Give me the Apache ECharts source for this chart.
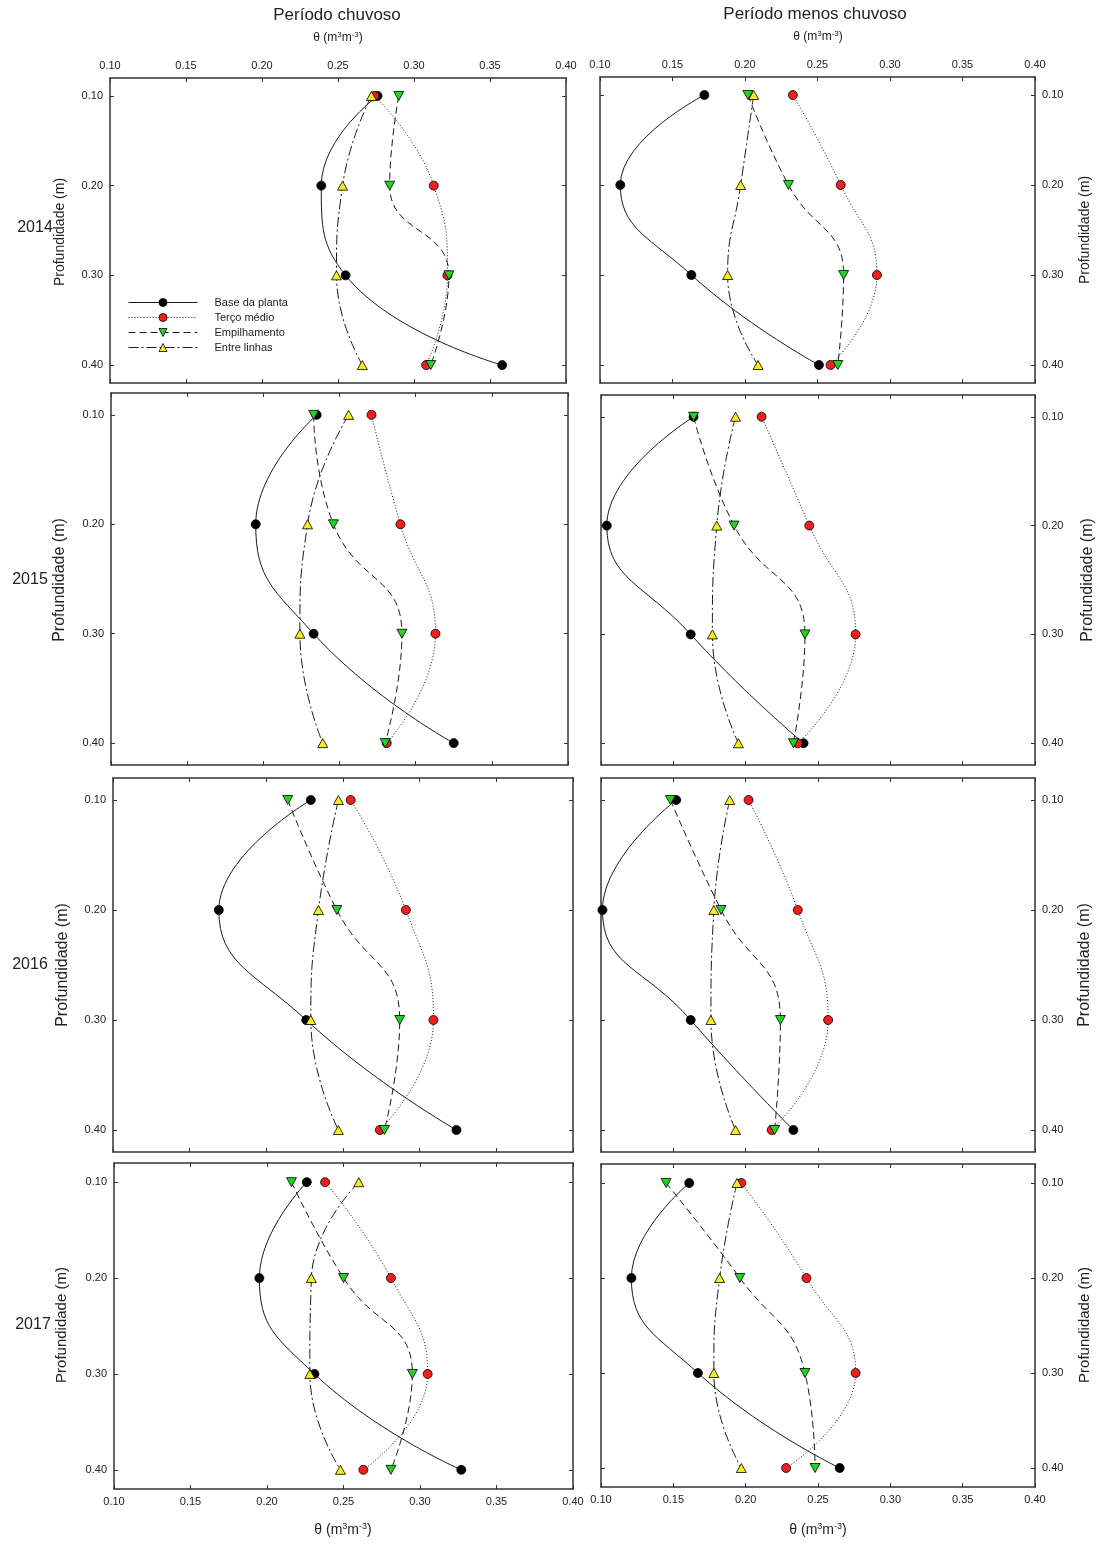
<!DOCTYPE html>
<html>
<head>
<meta charset="utf-8">
<title>Umidade do solo por profundidade</title>
<script src="https://cdn.jsdelivr.net/npm/echarts@6/dist/echarts.min.js"></script>
<style>
  html, body { margin: 0; padding: 0; background: #fff; }
  #chart { width: 1099px; height: 1545px; }
</style>
</head>
<body>
<div id="chart"></div>
<script>
// ---- data -------------------------------------------------------------
const depths = [0.10, 0.20, 0.30, 0.40];            // Profundidade (m)
const depthTicks = [0.10, 0.20, 0.30, 0.40];
const seriesNames = ['Base da planta', 'Terço médio', 'Empilhamento', 'Entre linhas'];
const years = ['2014', '2015', '2016', '2017'];
const periodTitles = ['Período chuvoso', 'Período menos chuvoso'];

// θ (m3 m-3) at each depth — Período chuvoso
const chuvoso2014Base = [0.276, 0.239, 0.255, 0.358];
const chuvoso2014Terco = [0.274, 0.313, 0.322, 0.308];
const chuvoso2014Empilhamento = [0.290, 0.284, 0.323, 0.311];
const chuvoso2014Entre = [0.272, 0.253, 0.249, 0.266];

const chuvoso2015Base = [0.235, 0.195, 0.233, 0.325];
const chuvoso2015Terco = [0.271, 0.290, 0.313, 0.281];
const chuvoso2015Empilhamento = [0.233, 0.246, 0.291, 0.280];
const chuvoso2015Entre = [0.256, 0.229, 0.224, 0.239];

const chuvoso2016Base = [0.229, 0.169, 0.226, 0.324];
const chuvoso2016Terco = [0.255, 0.291, 0.309, 0.274];
const chuvoso2016Empilhamento = [0.214, 0.246, 0.287, 0.277];
const chuvoso2016Entre = [0.247, 0.234, 0.229, 0.247];

const chuvoso2017Base = [0.226, 0.195, 0.231, 0.327];
const chuvoso2017Terco = [0.238, 0.281, 0.305, 0.263];
const chuvoso2017Empilhamento = [0.216, 0.250, 0.295, 0.281];
const chuvoso2017Entre = [0.260, 0.229, 0.228, 0.248];

// θ (m3 m-3) at each depth — Período menos chuvoso
const menos2014Base = [0.172, 0.114, 0.163, 0.251];
const menos2014Terco = [0.233, 0.266, 0.291, 0.259];
const menos2014Empilhamento = [0.202, 0.230, 0.268, 0.264];
const menos2014Entre = [0.206, 0.197, 0.188, 0.209];

const menos2015Base = [0.164, 0.104, 0.162, 0.240];
const menos2015Terco = [0.211, 0.244, 0.276, 0.236];
const menos2015Empilhamento = [0.164, 0.192, 0.241, 0.233];
const menos2015Entre = [0.193, 0.180, 0.177, 0.195];

const menos2016Base = [0.152, 0.101, 0.162, 0.233];
const menos2016Terco = [0.202, 0.236, 0.257, 0.218];
const menos2016Empilhamento = [0.148, 0.183, 0.224, 0.220];
const menos2016Entre = [0.189, 0.178, 0.176, 0.193];

const menos2017Base = [0.161, 0.121, 0.167, 0.265];
const menos2017Terco = [0.197, 0.242, 0.276, 0.228];
const menos2017Empilhamento = [0.145, 0.196, 0.241, 0.248];
const menos2017Entre = [0.194, 0.182, 0.178, 0.197];

// panels in reading order: [row][column]
const panelData = [
  [[chuvoso2014Base, chuvoso2014Terco, chuvoso2014Empilhamento, chuvoso2014Entre],
   [menos2014Base, menos2014Terco, menos2014Empilhamento, menos2014Entre]],
  [[chuvoso2015Base, chuvoso2015Terco, chuvoso2015Empilhamento, chuvoso2015Entre],
   [menos2015Base, menos2015Terco, menos2015Empilhamento, menos2015Entre]],
  [[chuvoso2016Base, chuvoso2016Terco, chuvoso2016Empilhamento, chuvoso2016Entre],
   [menos2016Base, menos2016Terco, menos2016Empilhamento, menos2016Entre]],
  [[chuvoso2017Base, chuvoso2017Terco, chuvoso2017Empilhamento, chuvoso2017Entre],
   [menos2017Base, menos2017Terco, menos2017Empilhamento, menos2017Entre]]
];

// ---- layout & style ---------------------------------------------------
const FONT = '"Liberation Sans", Arial, sans-serif';
const INK = '#222';
const FRAME = '#333';

const panelRects = [
  [{ left: 110, top: 78, width: 456, height: 305 }, { left: 600, top: 77, width: 435, height: 306 }],
  [{ left: 111, top: 393, width: 457, height: 372 }, { left: 601, top: 395, width: 434, height: 370 }],
  [{ left: 113, top: 778, width: 460, height: 374 }, { left: 601, top: 778, width: 434, height: 374 }],
  [{ left: 114, top: 1163, width: 459, height: 326 }, { left: 601, top: 1164, width: 434, height: 323 }]
];

const seriesStyles = [
  { fill: '#000000', dash: 'solid', symbol: 'circle', size: 9 },
  { fill: '#ee1f1f', dash: [1, 2], symbol: 'circle', size: 9 },
  { fill: '#22d422', dash: [7, 4], symbol: 'path://M0,0L10,0L5,9Z', size: [10, 9] },
  { fill: '#f6ee1c', dash: [10, 3, 2, 3], symbol: 'triangle', size: [10, 9] }
];

const twoDecimals = v => Number(v).toFixed(2);

const grids = [], xAxes = [], yAxes = [], series = [];

panelRects.forEach((rowRects, row) => {
  rowRects.forEach((rect, col) => {
    const g = grids.length;
    grids.push(Object.assign({ containLabel: false, outerBoundsMode: 'none', show: false }, rect));

    const frameLine = { show: true, onZero: false, lineStyle: { color: FRAME, width: 1.5 } };
    const tick = { show: true, inside: true, length: 4, lineStyle: { color: FRAME, width: 1 } };
    const label = (show) => ({
      show, margin: 7, color: INK, fontFamily: FONT, fontSize: 11, formatter: twoDecimals
    });

    const xBase = {
      type: 'value', gridIndex: g, min: 0.10, max: 0.40, interval: 0.05,
      axisLine: frameLine, axisTick: tick, splitLine: { show: false }
    };
    const xBottom = xAxes.length;
    xAxes.push(Object.assign({}, xBase, { position: 'bottom', axisLabel: label(row === 3) }));
    xAxes.push(Object.assign({}, xBase, { position: 'top', axisLabel: label(row === 0) }));

    const yBase = {
      type: 'value', gridIndex: g, min: 0.08, max: 0.42, inverse: true,
      axisLine: frameLine,
      axisTick: Object.assign({ customValues: depthTicks }, tick),
      splitLine: { show: false }
    };
    const yLeft = yAxes.length;
    yAxes.push(Object.assign({}, yBase, {
      position: 'left',
      axisLabel: Object.assign({ customValues: depthTicks }, label(col === 0))
    }));
    yAxes.push(Object.assign({}, yBase, {
      position: 'right',
      axisLabel: Object.assign({ customValues: depthTicks }, label(col === 1))
    }));

    panelData[row][col].forEach((values, s) => {
      const st = seriesStyles[s];
      series.push({
        name: seriesNames[s],
        type: 'line',
        xAxisIndex: xBottom,
        yAxisIndex: yLeft,
        smooth: 0.5,
        data: depths.map((d, i) => [values[i], d]),
        symbol: st.symbol,
        symbolSize: st.size,
        lineStyle: { color: '#1a1a1a', width: 1, type: st.dash },
        itemStyle: { color: st.fill, borderColor: '#000', borderWidth: 0.8 },
        emphasis: { disabled: true },
        silent: true
      });
    });
  });
});

// ---- free text --------------------------------------------------------
function thetaLabel(x, y, size) {
  return {
    type: 'text', x, y,
    style: {
      text: '{a|θ (m}{s|3}{a|m}{s|-3}{a|)}',
      align: 'center', verticalAlign: 'middle',
      rich: {
        a: { fontFamily: FONT, fontSize: size, fill: INK, lineHeight: size + 2 },
        s: { fontFamily: FONT, fontSize: Math.round(size * 0.65), fill: INK, verticalAlign: 'top', lineHeight: size + 2 }
      }
    }
  };
}
function plainText(text, x, y, size, rotation) {
  return {
    type: 'text', x, y, rotation: rotation || 0,
    style: { text, fontFamily: FONT, fontSize: size, fill: INK, align: 'center', verticalAlign: 'middle' }
  };
}

const yearPos = [[35, 228], [30, 580], [30, 965], [33, 1325]];
const depthTitleLeft = [[60, 232, 14], [60, 580, 16], [63, 965, 16], [62, 1325, 15]];
const depthTitleRight = [[1085, 230, 14], [1088, 580, 16], [1085, 965, 16], [1085, 1325, 15]];

const graphics = [
  plainText(periodTitles[0], 337, 15, 17),
  thetaLabel(338, 38, 12),
  plainText(periodTitles[1], 815, 14, 17),
  thetaLabel(818, 37, 12),
  thetaLabel(343, 1530, 14),
  thetaLabel(818, 1530, 14)
];
years.forEach((y, i) => graphics.push(plainText(y, yearPos[i][0], yearPos[i][1], 16)));
depthTitleLeft.forEach(p => graphics.push(plainText('Profundidade (m)', p[0], p[1], p[2], Math.PI / 2)));
depthTitleRight.forEach(p => graphics.push(plainText('Profundidade (m)', p[0], p[1], p[2], Math.PI / 2)));

// ---- chart ------------------------------------------------------------
const chart = echarts.init(document.getElementById('chart'), null, { renderer: 'canvas' });
chart.setOption({
  animation: false,
  backgroundColor: '#ffffff',
  textStyle: { fontFamily: FONT },
  grid: grids,
  xAxis: xAxes,
  yAxis: yAxes,
  series,
  legend: {
    data: seriesNames,
    orient: 'vertical',
    left: 128,
    top: 297,
    padding: 0,
    itemWidth: 69,
    itemHeight: 10,
    itemGap: 4,
    selectedMode: false,
    lineStyle: { width: 1 },
    itemStyle: { borderWidth: 0.8 },
    textStyle: { fontFamily: FONT, fontSize: 11, color: INK, padding: [0, 0, 0, 12] }
  },
  graphic: graphics
});
</script>
</body>
</html>
